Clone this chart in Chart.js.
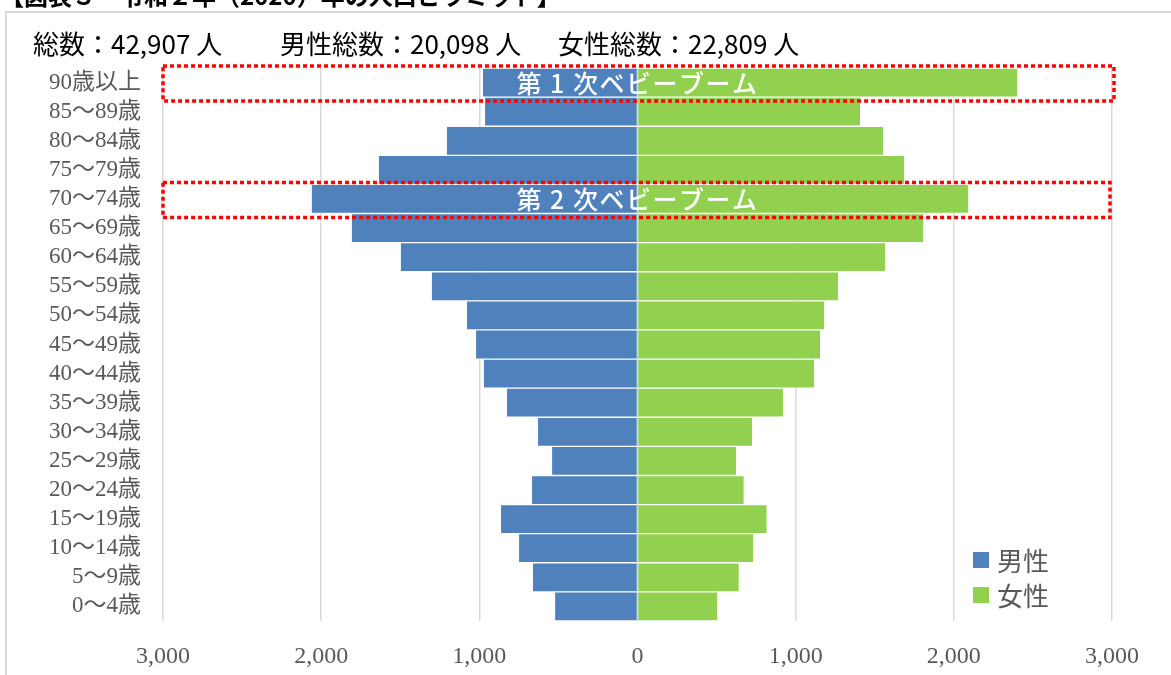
<!DOCTYPE html>
<html>
<head>
<meta charset="utf-8">
<script src="https://cdn.jsdelivr.net/npm/chart.js@4"></script>
<style>
  body { margin: 0; background: #fff; }
  #wrap { width: 1171px; height: 675px; position: relative; }
</style>
</head>
<body>
<div id="wrap"><canvas id="pyramid"></canvas></div>
<script>
const ageLabels = [
  "90歳以上", "85～89歳", "80～84歳", "75～79歳", "70～74歳", "65～69歳",
  "60～64歳", "55～59歳", "50～54歳", "45～49歳", "40～44歳", "35～39歳",
  "30～34歳", "25～29歳", "20～24歳", "15～19歳", "10～14歳", "5～9歳", "0～4歳"
];
const maleValues = [981, 968, 1209, 1639, 2063, 1810, 1500, 1304, 1082, 1025, 975, 829, 633, 544, 671, 867, 753, 665, 525];
const femaleValues = [2405, 1411, 1557, 1690, 2095, 1810, 1570, 1272, 1184, 1158, 1120, 924, 728, 627, 675, 820, 735, 644, 508];
const seriesNames = ["男性", "女性"];
const seriesColors = ["#4f81bd", "#92d050"];

const pageTitle = "【図表３　令和２年（2020）年の人口ピラミッド】";
const summaryTexts = ["総数：42,907 人", "男性総数：20,098 人", "女性総数：22,809 人"];
const boomRows = ["90歳以上", "70～74歳"];
const boomTexts = ["第 1 次ベビーブーム", "第 2 次ベビーブーム"];

const gothic = '"Noto Sans CJK JP", sans-serif';
const serif = '"Liberation Serif", "Noto Sans CJK JP", serif';

const decorations = {
  id: "decorations",
  beforeDraw(chart) {
    const c = chart.ctx;
    c.save();
    c.fillStyle = "#fff";
    c.fillRect(0, 0, chart.width, chart.height);

    // cut-off page title above the frame
    c.fillStyle = "#000";
    c.font = "bold 24px " + gothic;
    c.textBaseline = "alphabetic";
    c.fillText(pageTitle, 0, 5);

    // frame
    c.strokeStyle = "#d9d9d9";
    c.lineWidth = 2;
    c.strokeRect(6, 12, chart.width + 10, chart.height + 10);

    // totals line
    c.font = "26px " + gothic;
    c.textBaseline = "middle";
    const xs = [33, 280, 558];
    summaryTexts.forEach((t, i) => c.fillText(t, xs[i], 44));
    c.restore();
  },
  afterDatasetsDraw(chart) {
    const c = chart.ctx;
    const x = chart.scales.x;
    const y = chart.scales.y;
    const half = (y.getPixelForValue(1) - y.getPixelForValue(0)) / 2;
    c.save();
    boomRows.forEach((row, i) => {
      const idx = ageLabels.indexOf(row);
      const cy = y.getPixelForValue(idx);
      c.strokeStyle = "#ff0000";
      c.lineWidth = 3.5;
      c.setLineDash([4, 3]);
      c.strokeRect(x.left, cy - half - 2, x.right - x.left + (i === 0 ? 2 : -2), half * 2 + 6);
      c.setLineDash([]);
      c.fillStyle = "#fff";
      c.font = "500 25px " + gothic;
      c.letterSpacing = "1.5px";
      c.textAlign = "center";
      c.textBaseline = "middle";
      c.fillText(boomTexts[i], x.getPixelForValue(0), cy + 1);
      c.letterSpacing = "0px";
    });

    // legend inside the plot
    c.font = "26px " + gothic;
    c.textAlign = "left";
    c.textBaseline = "middle";
    seriesNames.forEach((name, i) => {
      const top = 552 + i * 35;
      c.fillStyle = seriesColors[i];
      c.fillRect(973, top, 16, 16);
      c.fillStyle = "#595959";
      c.fillText(name, 997, top + 9);
    });
    c.restore();
  }
};

new Chart(document.getElementById("pyramid"), {
  type: "bar",
  data: {
    labels: ageLabels,
    datasets: [
      {
        label: seriesNames[0],
        data: maleValues.map(v => -v),
        backgroundColor: seriesColors[0],
        borderColor: "rgba(255,255,255,0.55)",
        borderWidth: 1
      },
      {
        label: seriesNames[1],
        data: femaleValues,
        backgroundColor: seriesColors[1],
        borderColor: "rgba(255,255,255,0.55)",
        borderWidth: 1
      }
    ]
  },
  options: {
    indexAxis: "y",
    responsive: true,
    maintainAspectRatio: false,
    animation: false,
    layout: { padding: { top: 68, right: 59, bottom: 0, left: 0 } },
    datasets: { bar: { categoryPercentage: 1, barPercentage: 1 } },
    plugins: {
      legend: { display: false },
      tooltip: { enabled: false }
    },
    scales: {
      x: {
        stacked: true,
        min: -3000,
        max: 3000,
        ticks: {
          stepSize: 1000,
          padding: 21,
          color: "#595959",
          font: { family: serif, size: 24 },
          callback: v => Math.abs(v).toLocaleString("en-US")
        },
        grid: { color: "#d9d9d9", lineWidth: 1.5, drawTicks: false },
        border: { display: false },
        afterFit: s => { s.height = 54; }
      },
      y: {
        stacked: true,
        ticks: {
          padding: 22,
          color: "#595959",
          font: { family: serif, size: 23 },
          autoSkip: false
        },
        grid: { display: false, drawTicks: false },
        border: { display: false },
        afterFit: s => { s.width = 163; }
      }
    }
  },
  plugins: [decorations]
});
</script>
</body>
</html>
